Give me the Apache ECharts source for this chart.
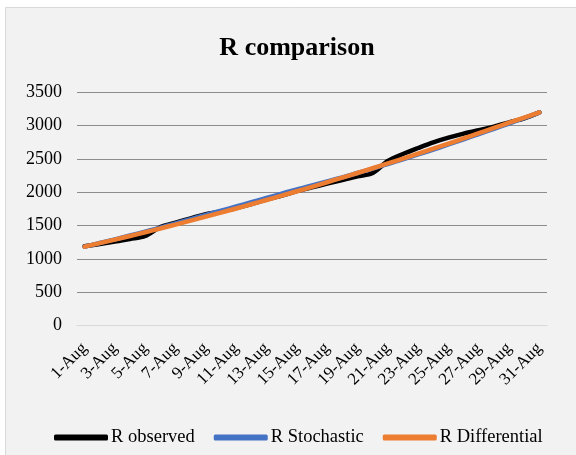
<!DOCTYPE html>
<html>
<head>
<meta charset="utf-8">
<script src="https://cdn.jsdelivr.net/npm/echarts@6/dist/echarts.min.js"></script>
<style>
html,body{margin:0;padding:0;background:#ffffff;}
#chart{width:576px;height:455px;}
</style>
</head>
<body>
<div id="chart"></div>
<script>
var categories = ['1-Aug','2-Aug','3-Aug','4-Aug','5-Aug','6-Aug','7-Aug','8-Aug','9-Aug','10-Aug',
  '11-Aug','12-Aug','13-Aug','14-Aug','15-Aug','16-Aug','17-Aug','18-Aug','19-Aug','20-Aug',
  '21-Aug','22-Aug','23-Aug','24-Aug','25-Aug','26-Aug','27-Aug','28-Aug','29-Aug','30-Aug','31-Aug'];

var rObserved = [1190,1225,1262,1300,1345,1480,1545,1610,1672,1712,
  1765,1825,1890,1950,2020,2075,2130,2185,2240,2290,
  2470,2575,2665,2750,2820,2880,2930,2985,3050,3110,3200];

var rStochastic = [1185,1240,1295,1352,1410,1470,1535,1598,1662,1725,
  1788,1852,1916,1980,2045,2105,2165,2225,2290,2355,
  2425,2495,2568,2642,2718,2795,2873,2952,3032,3115,3200];

var rDifferential = [1185,1238,1291,1346,1402,1458,1516,1575,1635,1696,
  1758,1821,1885,1950,2016,2083,2151,2220,2290,2361,
  2433,2506,2580,2655,2731,2808,2886,2965,3044,3122,3200];

var yTicks = {min: 0, max: 3500, interval: 500};

var serif = '"Liberation Serif", "Times New Roman", serif';
var chart = echarts.init(document.getElementById('chart'), null, {renderer: 'canvas'});

function lineSeries(name, data, color) {
  return {
    name: name,
    type: 'line',
    data: data,
    smooth: 0.3,
    symbol: 'none',
    lineStyle: {color: color, width: 4.5, cap: 'round', join: 'round'},
    itemStyle: {color: color}
  };
}

chart.setOption({
  animation: false,
  backgroundColor: 'transparent',
  graphic: [{
    type: 'rect',
    z: -10,
    shape: {x: 5.5, y: 7.5, width: 600, height: 460},
    style: {fill: '#f2f2f2', stroke: '#d9d9d9', lineWidth: 1}
  }],
  title: {
    text: 'R comparison',
    left: 292,
    textAlign: 'center',
    top: 30,
    textStyle: {fontFamily: serif, fontSize: 26, fontWeight: 'bold', color: '#000'}
  },
  grid: {left: 77, right: 29, top: 92.3, bottom: 129.3},
  xAxis: {
    type: 'category',
    data: categories,
    boundaryGap: true,
    axisTick: {show: false},
    axisLine: {lineStyle: {color: '#d9d9d9', width: 1}},
    axisLabel: {
      interval: 1,
      rotate: 45,
      margin: 20,
      fontFamily: serif,
      fontSize: 17,
      color: '#000'
    }
  },
  yAxis: {
    type: 'value',
    min: yTicks.min,
    max: yTicks.max,
    interval: yTicks.interval,
    axisLine: {show: false},
    axisTick: {show: false},
    splitLine: {lineStyle: {color: '#8c8c8c', width: 1.2}},
    axisLabel: {
      margin: 15, fontFamily: serif, fontSize: 18, color: '#000',
      formatter: function (v) { return String(v); }
    }
  },
  legend: {
    bottom: 3,
    left: 49,
    itemWidth: 54,
    itemHeight: 6,
    itemGap: 19,
    icon: 'roundRect',
    textStyle: {fontFamily: serif, fontSize: 18.5, color: '#000', padding: [0, 0, 0, -2]},
    data: ['R observed', 'R Stochastic', 'R Differential']
  },
  series: [
    lineSeries('R observed', rObserved, '#000000'),
    lineSeries('R Stochastic', rStochastic, '#4472c4'),
    lineSeries('R Differential', rDifferential, '#ed7d31')
  ]
});
</script>
</body>
</html>
